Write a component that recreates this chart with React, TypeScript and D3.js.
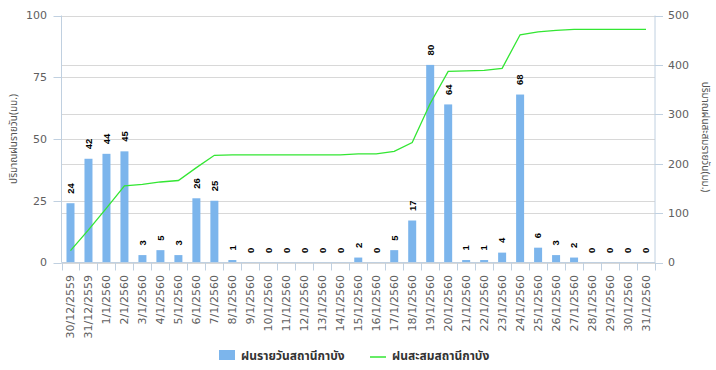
import React from "react";
import * as d3 from "d3";

const categories = [
  "30/12/2559", "31/12/2559", "1/1/2560", "2/1/2560", "3/1/2560", "4/1/2560", "5/1/2560",
  "6/1/2560", "7/1/2560", "8/1/2560", "9/1/2560", "10/1/2560", "11/1/2560", "12/1/2560",
  "13/1/2560", "14/1/2560", "15/1/2560", "16/1/2560", "17/1/2560", "18/1/2560", "19/1/2560",
  "20/1/2560", "21/1/2560", "22/1/2560", "23/1/2560", "24/1/2560", "25/1/2560", "26/1/2560",
  "27/1/2560", "28/1/2560", "29/1/2560", "30/1/2560", "31/1/2560",
];

const dailyRain = [
  24, 42, 44, 45, 3, 5, 3, 26, 25, 1, 0, 0, 0, 0, 0, 0, 2, 0, 5, 17, 80, 64, 1, 1, 4, 68, 6, 3, 2, 0, 0, 0, 0,
];

const cumulativeRain = [
  24, 66, 110, 155, 158, 163, 166, 192, 217, 218, 218, 218, 218, 218, 218, 218, 220, 220, 225, 243,
  322, 387, 388, 389, 393, 461, 467, 470, 472, 472, 472, 472, 472,
];

const leftTicks = [0, 25, 50, 75, 100];
const rightTicks = [0, 100, 200, 300, 400, 500];

const leftTitle = "ปริมาณฝนรายวัน(มม.)";
const rightTitle = "ปริมาณฝนสะสมรายวัน(มม.)";
const legendBar = "ฝนรายวันสถานีกาบัง";
const legendLine = "ฝนสะสมสถานีกาบัง";

export default function App() {
  const W = 716, H = 370;
  const L = 61.5, R = 655, T = 15.5, B = 262.5;
  const x = d3.scaleBand<string>().domain(categories).range([L, R]).padding(0);
  const yL = d3.scaleLinear().domain([0, 100]).range([B, T]);
  const yR = d3.scaleLinear().domain([0, 500]).range([B, T]);
  const bw = 8;
  const axisColor = "#c0d0e0";
  const gridColor = "#d8d8d8";
  const tickFont = "'DejaVu Sans', sans-serif";
  const thaiFont = "'Noto Sans Thai', 'Tahoma', 'DejaVu Sans', sans-serif";

  const line = d3
    .line<number>()
    .x((_, i) => (x(categories[i]) as number) + x.bandwidth() / 2)
    .y((d) => yR(d));

  const boundaries = categories.map((c) => x(c) as number).concat([R]);

  return (
    <svg width={W} height={H} style={{ position: "absolute", left: 0, top: 0, background: "#fff" }}>
      {leftTicks.map((t) => (
        <line key={"gl" + t} x1={L} x2={R} y1={Math.round(yL(t)) + 0.5} y2={Math.round(yL(t)) + 0.5} stroke={gridColor} />
      ))}
      {rightTicks.map((t) => (
        <line key={"gr" + t} x1={L} x2={R} y1={Math.round(yR(t)) + 0.5} y2={Math.round(yR(t)) + 0.5} stroke={gridColor} />
      ))}

      {dailyRain.map((v, i) => {
        const cx = (x(categories[i]) as number) + x.bandwidth() / 2;
        return (
          <rect key={"b" + i} x={cx - bw / 2} y={yL(v)} width={bw} height={B - yL(v)} fill="#7cb5ec" />
        );
      })}

      <path d={line(cumulativeRain) || ""} fill="none" stroke="#33e633" strokeWidth={1.3} />

      {dailyRain.map((v, i) => {
        const cx = (x(categories[i]) as number) + x.bandwidth() / 2;
        return (
          <text
            key={"bl" + i}
            transform={`translate(${cx},${yL(v) - 9.5}) rotate(-90)`}
            dy="0.35em"
            textAnchor="start"
            fontFamily="'Liberation Sans', Arial, sans-serif"
            fontWeight="bold"
            fontSize={9.5}
            fill="#000"
          >
            {v}
          </text>
        );
      })}

      <line x1={L} x2={L} y1={T} y2={B} stroke={axisColor} />
      <line x1={R} x2={R} y1={T} y2={B} stroke={axisColor} />
      <line x1={L} x2={R} y1={B} y2={B} stroke={axisColor} />

      {leftTicks.map((t) => (
        <g key={"lt" + t}>
          <line x1={L - 8} x2={L} y1={Math.round(yL(t)) + 0.5} y2={Math.round(yL(t)) + 0.5} stroke={axisColor} />
          <text x={47} y={yL(t)} dy="0.35em" textAnchor="end" fontFamily={tickFont} fontSize={11} fill="#606060">
            {t}
          </text>
        </g>
      ))}

      {rightTicks.map((t) => (
        <g key={"rt" + t}>
          <line x1={R} x2={R + 8} y1={Math.round(yR(t)) + 0.5} y2={Math.round(yR(t)) + 0.5} stroke={axisColor} />
          <text x={668} y={yR(t)} dy="0.35em" textAnchor="start" fontFamily={tickFont} fontSize={11} fill="#606060">
            {t}
          </text>
        </g>
      ))}

      {boundaries.map((bx, i) => (
        <line key={"xt" + i} x1={Math.round(bx) + 0.5} x2={Math.round(bx) + 0.5} y1={B} y2={B + 8} stroke={axisColor} />
      ))}
      {categories.map((c) => {
        const cx = (x(c) as number) + x.bandwidth() / 2;
        return (
          <text
            key={"xl" + c}
            transform={`translate(${cx},275) rotate(-90)`}
            dy="0.35em"
            textAnchor="end"
            fontFamily={tickFont}
            fontSize={11}
            fill="#606060"
          >
            {c}
          </text>
        );
      })}

      <text
        transform={`translate(13,${(T + B) / 2}) rotate(-90)`}
        dy="0.35em"
        textAnchor="middle"
        fontFamily={thaiFont}
        fontSize={10}
        fill="#555"
      >
        {leftTitle}
      </text>
      <text
        transform={`translate(705,${(T + B) / 2 - 2}) rotate(90)`}
        dy="0.35em"
        textAnchor="middle"
        fontFamily={thaiFont}
        fontSize={10}
        fill="#555"
      >
        {rightTitle}
      </text>

      <rect x={219} y={350} width={16} height={10} fill="#7cb5ec" />
      <text x={241} y={356} dy="0.35em" fontFamily={thaiFont} fontSize={12} fontWeight="bold" fill="#333">
        {legendBar}
      </text>
      <line x1={370} x2={386} y1={357} y2={357} stroke="#33e633" strokeWidth={1.5} />
      <text x={392} y={356} dy="0.35em" fontFamily={thaiFont} fontSize={12} fontWeight="bold" fill="#333">
        {legendLine}
      </text>
    </svg>
  );
}
